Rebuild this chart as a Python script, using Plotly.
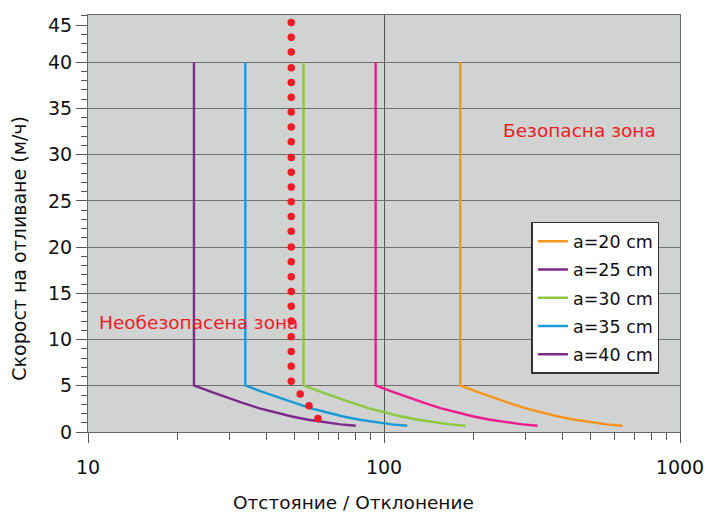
import plotly.graph_objects as go

# ---- data ----
Y_CURVE = [40, 5.03, 4.39, 3.78, 3.17, 2.59, 2.11, 1.68, 1.33, 1.03, 0.82, 0.68]
X_A20 = [181, 181, 204.5, 231.3, 262.6, 299.6, 343, 387.5, 441, 502, 566, 638]
X_A25 = [93.7, 93.7, 105.9, 119.7, 136, 155, 177.6, 200.6, 228.3, 260, 293, 330]
X_A30 = [53.5, 53.5, 60.5, 68.4, 77.6, 88.5, 101.4, 114.5, 130.3, 148.5, 167.3, 188.5]
X_A35 = [34, 34, 38.4, 43.5, 49.3, 56.3, 64.4, 72.8, 82.8, 94.4, 106.3, 119.8]
X_A40 = [22.8, 22.8, 25.8, 29.1, 33.1, 37.7, 43.2, 48.8, 55.5, 63.3, 71.3, 80.3]

DOTS_X = [48.6] * 25 + [52.1, 55.8, 59.8]
DOTS_Y = [44.3, 42.7, 41.1, 39.4, 37.8, 36.2, 34.6, 33.0, 31.4, 29.7, 28.1, 26.5,
          24.9, 23.3, 21.7, 20.0, 18.4, 16.8, 15.2, 13.6, 12.0, 10.3, 8.7, 7.1, 5.5,
          4.1, 2.85, 1.45]

Y_TICKS = [0, 5, 10, 15, 20, 25, 30, 35, 40]
Y_TOP_TICK_POS = [44]
Y_TOP_TICK_TEXT = ["45"]
X_TICKS = [10, 100, 1000]
X_MINOR = [20, 30, 40, 50, 60, 70, 80, 90, 200, 300, 400, 500, 600, 700, 800, 900]

ORANGE = "#f7941d"
PURPLE = "#7d2b8b"
GREEN = "#8dc63f"
BLUE = "#1b9ad6"
PINK = "#ec1c8c"
RED = "#ee1c25"
FONT = "DejaVu Sans"

fig = go.Figure()
lw = 2.4
fig.add_trace(go.Scatter(x=X_A20, y=Y_CURVE, mode="lines", name="a=20 cm",
                         line=dict(color=ORANGE, width=lw), legendgroup="g1"))
fig.add_trace(go.Scatter(x=X_A25, y=Y_CURVE, mode="lines", name="a=25 cm",
                         line=dict(color=PINK, width=lw), legendgroup="g2", showlegend=False))
fig.add_trace(go.Scatter(x=[None], y=[None], mode="lines", name="a=25 cm",
                         line=dict(color=PURPLE, width=lw), legendgroup="g2"))
fig.add_trace(go.Scatter(x=X_A30, y=Y_CURVE, mode="lines", name="a=30 cm",
                         line=dict(color=GREEN, width=lw), legendgroup="g3"))
fig.add_trace(go.Scatter(x=X_A35, y=Y_CURVE, mode="lines", name="a=35 cm",
                         line=dict(color=BLUE, width=lw), legendgroup="g4"))
fig.add_trace(go.Scatter(x=X_A40, y=Y_CURVE, mode="lines", name="a=40 cm",
                         line=dict(color=PURPLE, width=lw), legendgroup="g5"))
fig.add_trace(go.Scatter(x=DOTS_X, y=DOTS_Y, mode="markers", showlegend=False,
                         marker=dict(color=RED, size=7.5, line=dict(width=0))))
# helper axis for the top "45" label
fig.add_trace(go.Scatter(x=[None], y=[None], yaxis="y2", showlegend=False))

fig.update_layout(
    width=716, height=512,
    margin=dict(l=88, r=34, t=15, b=80),
    paper_bgcolor="white",
    plot_bgcolor="#d1d3d3",
    font=dict(family=FONT, size=18, color="#111"),
    showlegend=True,
    legend=dict(x=0.749, y=0.504, xanchor="left", yanchor="top",
                bgcolor="white", bordercolor="#333", borderwidth=1.5,
                font=dict(family=FONT, size=17.5, color="#111"),
                tracegroupgap=2.5, traceorder="grouped"),
    xaxis=dict(type="log", range=[1, 3],
               tickmode="array", tickvals=X_TICKS, ticktext=["10", "100", "1000"],
               ticks="outside", ticklen=10, tickcolor="#555", tickwidth=1,
               ticklabelstandoff=8,
               minor=dict(tickmode="array", tickvals=X_MINOR, ticks="outside",
                          ticklen=7, tickcolor="#555", showgrid=False),
               showgrid=True, gridcolor="#555", gridwidth=1,
               showline=True, linecolor="#666", linewidth=1, mirror=True,
               zeroline=False,
               tickfont=dict(family=FONT, size=19, color="#111")),
    yaxis=dict(range=[0, 45.1], tickmode="array", tickvals=Y_TICKS,
               ticks="outside", ticklen=11, tickcolor="#555",
               minor=dict(dtick=1, ticks="outside", ticklen=6, tickcolor="#555",
                          showgrid=False),
               showgrid=True, gridcolor="#707070", gridwidth=1.2,
               showline=True, linecolor="#666", linewidth=1, mirror=True,
               zeroline=False,
               tickfont=dict(family=FONT, size=19, color="#111")),
    yaxis2=dict(overlaying="y", side="left", range=[0, 45.1],
                tickmode="array", tickvals=Y_TOP_TICK_POS, ticktext=Y_TOP_TICK_TEXT,
                ticks="outside", ticklen=11, tickcolor="#555",
                showgrid=False, zeroline=False, showline=False,
                tickfont=dict(family=FONT, size=19, color="#111")),
    annotations=[
        dict(text="Безопасна зона", x=0.698, y=0.722, xref="paper", yref="paper",
             xanchor="left", yanchor="middle", showarrow=False,
             font=dict(family=FONT, size=18.5, color=RED)),
        dict(text="Необезопасена зона", x=0.0146, y=0.262, xref="paper", yref="paper",
             xanchor="left", yanchor="middle", showarrow=False,
             font=dict(family=FONT, size=18.5, color=RED)),
        dict(text="Скорост на отливане (м/ч)", x=-0.118, y=0.44, xref="paper",
             yref="paper", xanchor="center", yanchor="middle", textangle=-90,
             showarrow=False, font=dict(family=FONT, size=19, color="#111")),
        dict(text="Отстояние / Отклонение", x=0.449, y=-0.169, xref="paper",
             yref="paper", xanchor="center", yanchor="middle", showarrow=False,
             font=dict(family=FONT, size=18.5, color="#111")),
    ],
)

fig.write_html("out.html")
